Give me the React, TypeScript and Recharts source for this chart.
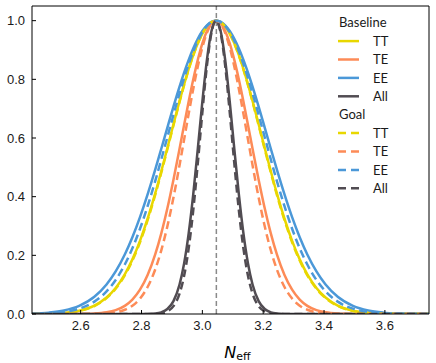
import React from 'react';
import { LineChart, Line, XAxis, YAxis, ReferenceLine, Label } from 'recharts';

// N_eff sample points (denser near the peak)
const nEff = [2.44, 2.495, 2.545, 2.595, 2.645, 2.685, 2.715, 2.745, 2.77, 2.795, 2.82, 2.845, 2.865, 2.885, 2.905, 2.925, 2.94, 2.955, 2.97, 2.985, 3.0, 3.015, 3.03, 3.045, 3.06, 3.075, 3.09, 3.105, 3.12, 3.135, 3.15, 3.165, 3.185, 3.205, 3.225, 3.245, 3.27, 3.295, 3.32, 3.345, 3.375, 3.405, 3.445, 3.495, 3.545, 3.595, 3.645, 3.695, 3.745];

const ttBaseline = [0.0003, 0.0012, 0.0039, 0.0111, 0.0286, 0.0561, 0.0889, 0.1353, 0.1862, 0.2494, 0.3247, 0.4111, 0.4868, 0.5661, 0.6469, 0.7261, 0.7827, 0.8353, 0.8825, 0.9231, 0.9560, 0.9802, 0.9950, 1, 0.9950, 0.9802, 0.9560, 0.9231, 0.8825, 0.8353, 0.7827, 0.7261, 0.6469, 0.5661, 0.4868, 0.4111, 0.3247, 0.2494, 0.1862, 0.1353, 0.0889, 0.0561, 0.0286, 0.0111, 0.0039, 0.0012, 0.0003, 0.0001, 0];
const teBaseline = [0, 0, 0, 0.0003, 0.0017, 0.0057, 0.0130, 0.0277, 0.0491, 0.0828, 0.1329, 0.2030, 0.2749, 0.3604, 0.4578, 0.5633, 0.6444, 0.7241, 0.7991, 0.8663, 0.9225, 0.9648, 0.9911, 1, 0.9911, 0.9648, 0.9225, 0.8663, 0.7991, 0.7241, 0.6444, 0.5633, 0.4578, 0.3604, 0.2749, 0.2030, 0.1329, 0.0828, 0.0491, 0.0277, 0.0130, 0.0057, 0.0017, 0.0003, 0, 0, 0, 0, 0];
const eeBaseline = [0.0015, 0.0047, 0.0119, 0.0277, 0.0587, 0.1007, 0.1453, 0.2030, 0.2619, 0.3305, 0.4079, 0.4923, 0.5633, 0.6354, 0.7067, 0.7748, 0.8226, 0.8663, 0.9052, 0.9382, 0.9648, 0.9842, 0.9960, 1, 0.9960, 0.9842, 0.9648, 0.9382, 0.9052, 0.8663, 0.8226, 0.7748, 0.7067, 0.6354, 0.5633, 0.4923, 0.4079, 0.3305, 0.2619, 0.2030, 0.1453, 0.1007, 0.0587, 0.0277, 0.0119, 0.0047, 0.0017, 0.0006, 0.0002];
const allBaseline = [0, 0, 0, 0, 0, 0, 0, 0, 0, 0, 0.0003, 0.0017, 0.0057, 0.0169, 0.0439, 0.1007, 0.1724, 0.2749, 0.4079, 0.5633, 0.7241, 0.8663, 0.9648, 1, 0.9648, 0.8663, 0.7241, 0.5633, 0.4079, 0.2749, 0.1724, 0.1007, 0.0439, 0.0169, 0.0057, 0.0017, 0.0003, 0, 0, 0, 0, 0, 0, 0, 0, 0, 0, 0, 0];

const ttGoal = [0.0003, 0.0011, 0.0036, 0.0105, 0.0272, 0.0540, 0.0861, 0.1317, 0.1821, 0.2447, 0.3198, 0.4062, 0.4821, 0.5618, 0.6431, 0.7230, 0.7801, 0.8333, 0.8810, 0.9221, 0.9554, 0.9799, 0.9949, 1, 0.9949, 0.9799, 0.9554, 0.9221, 0.8810, 0.8333, 0.7801, 0.7230, 0.6431, 0.5618, 0.4821, 0.4062, 0.3198, 0.2447, 0.1821, 0.1317, 0.0861, 0.0540, 0.0272, 0.0105, 0.0036, 0.0011, 0.0003, 0.0001, 0];
const teGoal = [0, 0, 0, 0.0001, 0.0005, 0.0022, 0.0059, 0.0144, 0.0283, 0.0526, 0.0920, 0.1518, 0.2172, 0.2992, 0.3970, 0.5073, 0.5948, 0.6827, 0.7671, 0.8439, 0.9090, 0.9585, 0.9895, 1, 0.9895, 0.9585, 0.9090, 0.8439, 0.7671, 0.6827, 0.5948, 0.5073, 0.3970, 0.2992, 0.2172, 0.1518, 0.0920, 0.0526, 0.0283, 0.0144, 0.0059, 0.0022, 0.0005, 0.0001, 0, 0, 0, 0, 0];
const eeGoal = [0.0007, 0.0025, 0.0071, 0.0182, 0.0422, 0.0771, 0.1160, 0.1686, 0.2241, 0.2905, 0.3674, 0.4533, 0.5269, 0.6027, 0.6787, 0.7522, 0.8041, 0.8520, 0.8947, 0.9313, 0.9607, 0.9824, 0.9956, 1, 0.9956, 0.9824, 0.9607, 0.9313, 0.8947, 0.8520, 0.8041, 0.7522, 0.6787, 0.6027, 0.5269, 0.4533, 0.3674, 0.2905, 0.2241, 0.1686, 0.1160, 0.0771, 0.0422, 0.0182, 0.0071, 0.0025, 0.0008, 0.0002, 0.0001];
const allGoal = [0, 0, 0, 0, 0, 0, 0, 0, 0, 0, 0.0001, 0.0006, 0.0025, 0.0088, 0.0267, 0.0698, 0.1302, 0.2236, 0.3534, 0.5139, 0.6877, 0.8467, 0.9593, 1, 0.9593, 0.8467, 0.6877, 0.5139, 0.3534, 0.2236, 0.1302, 0.0698, 0.0267, 0.0088, 0.0025, 0.0006, 0.0001, 0, 0, 0, 0, 0, 0, 0, 0, 0, 0, 0, 0];

const nEffStandard = 3.046;
const xTicks = [2.6, 2.8, 3.0, 3.2, 3.4, 3.6];
const yTicks = [0, 0.2, 0.4, 0.6, 0.8, 1.0];
const spectra = ['TT', 'TE', 'EE', 'All'];
const groups = ['Baseline', 'Goal'];

const COLORS: Record<string, string> = {
  TT: '#e8d700',
  TE: '#fd8b57',
  EE: '#4b98d8',
  All: '#514c52',
};
const DASH = '8 4.5';

const data = nEff.map((x, i) => ({
  x,
  ttB: ttBaseline[i],
  teB: teBaseline[i],
  eeB: eeBaseline[i],
  allB: allBaseline[i],
  ttG: ttGoal[i],
  teG: teGoal[i],
  eeG: eeGoal[i],
  allG: allGoal[i],
}));

const series = [
  { key: 'ttB', name: 'TT', dashed: false },
  { key: 'teB', name: 'TE', dashed: false },
  { key: 'eeB', name: 'EE', dashed: false },
  { key: 'allB', name: 'All', dashed: false },
  { key: 'ttG', name: 'TT', dashed: true },
  { key: 'teG', name: 'TE', dashed: true },
  { key: 'eeG', name: 'EE', dashed: true },
  { key: 'allG', name: 'All', dashed: true },
];

const tickFont = { fill: '#1a1a1a', fontSize: 13, fontFamily: 'Liberation Sans, Arial, sans-serif' };
const fmt = (v: number) => v.toFixed(1);

const XLabel = (props: any) => {
  const vb = props.viewBox || {};
  const cx = vb.x + vb.width / 2;
  const y = vb.y + 44;
  return (
    <text x={cx + 7} y={y} textAnchor="middle" fill="#000" fontFamily="DejaVu Sans, sans-serif">
      <tspan fontStyle="italic" fontSize={16}>N</tspan>
      <tspan fontSize={11} dy={2}>eff</tspan>
    </text>
  );
};

const LegendOverlay = () => {
  const rows: { type: 'header' | 'item'; text: string; color?: string; dashed?: boolean }[] = [];
  groups.forEach((g, gi) => {
    rows.push({ type: 'header', text: g });
    spectra.forEach((s) => rows.push({ type: 'item', text: s, color: COLORS[s], dashed: gi === 1 }));
  });
  const y0 = 22.7;
  const step = 18.4;
  return (
    <svg width={436} height={363} style={{ position: 'absolute', left: 0, top: 0, pointerEvents: 'none' }}>
      {rows.map((r, i) => {
        const cy = y0 + i * step;
        if (r.type === 'header') {
          return (
            <text key={i} x={339} y={cy + 4.6} fontSize={13} fontFamily="Lato, sans-serif" fill="#1a1a1a">
              {r.text}
            </text>
          );
        }
        return (
          <g key={i}>
            <line x1={338} x2={359} y1={cy} y2={cy} stroke={r.color} strokeWidth={2.5} strokeDasharray={r.dashed ? '8 5' : undefined} />
            <text x={373} y={cy + 4.6} fontSize={13} fontFamily="Lato, sans-serif" fill="#1a1a1a">
              {r.text}
            </text>
          </g>
        );
      })}
    </svg>
  );
};

export default function App() {
  return (
    <div style={{ position: 'absolute', left: 0, top: 0, width: 436, height: 363, background: '#fff' }}>
      <LineChart width={436} height={363} data={data} margin={{ top: 5, right: 6, left: 0, bottom: 0 }}>
        <XAxis
          dataKey="x"
          type="number"
          domain={[2.44, 3.745]}
          allowDataOverflow
          ticks={xTicks}
          interval={0}
          tickFormatter={fmt}
          tickSize={-4}
          tickMargin={11}
          height={49}
          axisLine={{ stroke: '#000', strokeWidth: 1 }}
          tickLine={{ stroke: '#000' }}
          tick={tickFont}
        >
          <Label content={<XLabel />} />
        </XAxis>
        <XAxis
          xAxisId="top"
          orientation="top"
          dataKey="x"
          type="number"
          domain={[2.44, 3.745]}
          allowDataOverflow
          ticks={xTicks}
          interval={0}
          tickSize={-4}
          height={1}
          tick={false}
          axisLine={{ stroke: '#000', strokeWidth: 1 }}
          tickLine={{ stroke: '#000' }}
        />
        <YAxis
          type="number"
          domain={[0, 1.05]}
          allowDataOverflow
          ticks={yTicks}
          interval={0}
          tickFormatter={fmt}
          tickSize={-4}
          tickMargin={11}
          width={32}
          axisLine={{ stroke: '#000', strokeWidth: 1 }}
          tickLine={{ stroke: '#000' }}
          tick={tickFont}
        />
        <YAxis
          yAxisId="right"
          orientation="right"
          type="number"
          domain={[0, 1.05]}
          allowDataOverflow
          ticks={yTicks}
          interval={0}
          tickSize={-4}
          width={1}
          tick={false}
          axisLine={{ stroke: '#000', strokeWidth: 1 }}
          tickLine={{ stroke: '#000' }}
        />
        <ReferenceLine x={nEffStandard} stroke="#8a8a8a" strokeWidth={1.5} strokeDasharray="5 3" />
        {series.map((s) => (
          <Line
            key={s.key}
            dataKey={s.key}
            type="monotone"
            stroke={COLORS[s.name]}
            strokeWidth={2.5}
            strokeDasharray={s.dashed ? DASH : undefined}
            dot={false}
            activeDot={false}
            isAnimationActive={false}
          />
        ))}
      </LineChart>
      <LegendOverlay />
    </div>
  );
}
